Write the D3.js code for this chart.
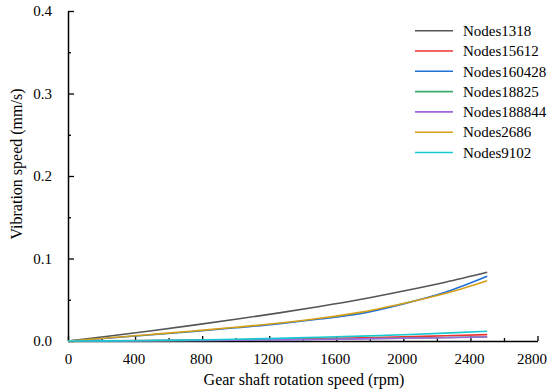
<!DOCTYPE html>
<html>
<head>
<meta charset="utf-8">
<script src="https://cdn.jsdelivr.net/npm/d3@7"></script>
<style>
  body { margin: 0; background: #fff; }
  svg text { font-family: "Liberation Serif", "Times New Roman", serif; fill: #000; }
</style>
</head>
<body>
<div id="chart"></div>
<script>
// rotation speed (rpm)
const speeds = [0, 250, 500, 750, 1000, 1250, 1500, 1750, 2000, 2250, 2500];

const seriesNames = ["Nodes1318", "Nodes15612", "Nodes160428", "Nodes18825", "Nodes188844", "Nodes2686", "Nodes9102"];
const seriesColors = ["#555555", "#ee3333", "#1f6fd6", "#3aaa6a", "#a066dd", "#d4a017", "#17c8d0"];

// vibration speed (mm/s)
const nodes1318   = [0, 0.0061, 0.0125, 0.0192, 0.0263, 0.0338, 0.0418, 0.0505, 0.0605, 0.0712, 0.0833];
const nodes15612  = [0, 0.0001, 0.0004, 0.0009, 0.0015, 0.0022, 0.0030, 0.0040, 0.0050, 0.0063, 0.0077];
const nodes160428 = [0, 0.0036, 0.0075, 0.0116, 0.0160, 0.0208, 0.0266, 0.0335, 0.0450, 0.0590, 0.0784];
const nodes18825  = [0, 0.0001, 0.0003, 0.0007, 0.0011, 0.0015, 0.0021, 0.0028, 0.0035, 0.0043, 0.0052];
const nodes188844 = [0, 0.0001, 0.0003, 0.0006, 0.0010, 0.0014, 0.0019, 0.0026, 0.0033, 0.0040, 0.0048];
const nodes2686   = [0, 0.0039, 0.0080, 0.0122, 0.0166, 0.0215, 0.0275, 0.0350, 0.0455, 0.0575, 0.0730];
const nodes9102   = [0, 0.0002, 0.0007, 0.0013, 0.0021, 0.0032, 0.0045, 0.0059, 0.0075, 0.0095, 0.0118];

const seriesValues = [nodes1318, nodes15612, nodes160428, nodes18825, nodes188844, nodes2686, nodes9102];

const xTicks = [0, 400, 800, 1200, 1600, 2000, 2400, 2800];
const yTicks = [0, 0.1, 0.2, 0.3, 0.4];

const width = 550, height = 391;
const margin = {left: 68, right: 12.5, top: 11, bottom: 50};

const svg = d3.select('#chart').append('svg')
  .attr('width', width)
  .attr('height', height);

const x = d3.scaleLinear().domain([0, 2800]).range([margin.left, width - margin.right]);
const y = d3.scaleLinear().domain([0, 0.4]).range([height - margin.bottom, margin.top]);

// minor ticks
svg.append('g')
  .attr('transform', `translate(0,${y(0)})`)
  .call(d3.axisBottom(x).tickValues(d3.range(200, 2800, 400)).tickSize(-3).tickFormat('').tickSizeOuter(0))
  .call(g => g.select('.domain').remove())
  .call(g => g.selectAll('line').attr('stroke-width', 1.3));
svg.append('g')
  .attr('transform', `translate(${x(0)},0)`)
  .call(d3.axisLeft(y).tickValues([0.05, 0.15, 0.25, 0.35]).tickSize(-3).tickFormat('').tickSizeOuter(0))
  .call(g => g.select('.domain').remove())
  .call(g => g.selectAll('line').attr('stroke-width', 1.3));

// major axes
const xAxis = svg.append('g')
  .attr('transform', `translate(0,${y(0)})`)
  .call(d3.axisBottom(x).tickValues(xTicks).tickSize(-5).tickSizeOuter(0).tickPadding(12).tickFormat(d3.format('d')));
const yAxis = svg.append('g')
  .attr('transform', `translate(${x(0)},0)`)
  .call(d3.axisLeft(y).tickValues(yTicks).tickSize(-6).tickSizeOuter(0).tickPadding(16).tickFormat(d3.format('.1f')));

[xAxis, yAxis].forEach(g => {
  g.select('.domain').attr('stroke-width', 1.5);
  g.selectAll('line').attr('stroke-width', 1.3);
  g.selectAll('text').style('font-size', '15px').style('font-family', '"Liberation Serif", serif');
});
// last x label sits a little left of its tick so it stays inside the picture
xAxis.selectAll('.tick text').filter(d => d === 2800).attr('dx', -6);
xAxis.selectAll('.tick text').filter(d => d !== 0 && d !== 2800).attr('dx', -1.5);

// lines
const line = d3.line()
  .x((d, i) => x(speeds[i]))
  .y(d => y(d))
  .curve(d3.curveMonotoneX);

svg.append('g').selectAll('path')
  .data(seriesValues)
  .join('path')
  .attr('d', line)
  .attr('fill', 'none')
  .attr('stroke', (d, i) => seriesColors[i])
  .attr('stroke-width', 1.6);

// axis titles
svg.append('text')
  .attr('x', 304)
  .attr('y', 385)
  .attr('text-anchor', 'middle')
  .style('font-size', '16px')
  .text('Gear shaft rotation speed (rpm)');

svg.append('text')
  .attr('transform', 'translate(22,164) rotate(-90)')
  .attr('text-anchor', 'middle')
  .style('font-size', '16px')
  .text('Vibration speed (mm/s)');

// legend
const legend = svg.append('g').selectAll('g')
  .data(seriesNames)
  .join('g')
  .attr('transform', (d, i) => `translate(415,${30.7 + i * 20.3})`);

legend.append('line')
  .attr('x1', 0).attr('x2', 38)
  .attr('stroke', (d, i) => seriesColors[i])
  .attr('stroke-width', 1.6);

legend.append('text')
  .attr('x', 48)
  .attr('dy', '0.35em')
  .style('font-size', '15px')
  .text(d => d);
</script>
</body>
</html>
